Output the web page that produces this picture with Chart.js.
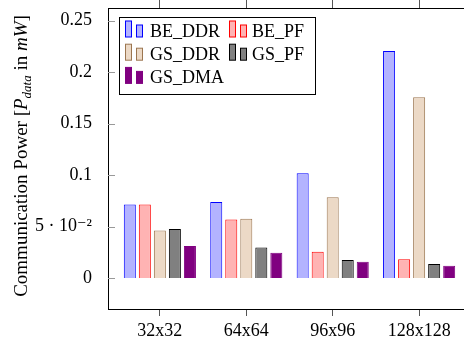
<!DOCTYPE html>
<html>
<head>
<meta charset="utf-8">
<script src="https://cdn.jsdelivr.net/npm/chart.js@4/dist/chart.umd.min.js"></script>
<style>
  html, body { margin: 0; padding: 0; background: #fff; overflow: hidden; }
  #wrap { width: 480px; height: 344px; }
</style>
</head>
<body>
<div id="wrap"><canvas id="myChart" width="480" height="344"></canvas></div>
<script>
const categories = ["32x32", "64x64", "96x96", "128x128"];
const beDdr = [0.0715, 0.0738, 0.1019, 0.2206];
const bePf = [0.0716, 0.0569, 0.0255, 0.0184];
const gsDdr = [0.0462, 0.0576, 0.0786, 0.1757];
const gsPf = [0.0478, 0.0297, 0.0175, 0.0136];
const gsDma = [0.0313, 0.0246, 0.0158, 0.0119];
const yTicks = [0, 0.05, 0.1, 0.15, 0.2, 0.25];

const serif = '"Liberation Serif", "DejaVu Serif", serif';

function points(values) {
  return values.map((v, i) => ({ x: i, y: v }));
}

function dataset(label, values, bg, border) {
  return {
    label: label,
    data: points(values),
    xAxisID: "x",
    backgroundColor: bg,
    borderColor: border,
    borderWidth: 1,
    barPercentage: 0.8,
    categoryPercentage: 0.869
  };
}

function tickLabel(v) {
  if (Math.abs(v - 0.05) < 1e-9) return "5 \u00b7 10\u207b\u00b2";
  return String(Math.round(v * 100) / 100);
}

// petits traits intérieurs de l'axe y, titre de l'axe y et légende
const decor = {
  id: "decor",
  afterDraw(chart) {
    const c = chart.ctx;
    const a = chart.chartArea;
    const ys = chart.scales.y;
    const l = Math.round(a.left);
    const r = Math.round(a.right);
    c.save();

    c.fillStyle = "#999";
    yTicks.forEach((v) => {
      const y = Math.round(ys.getPixelForValue(v));
      c.fillRect(l, y, 7, 1);
      c.fillRect(r - 7, y, 7, 1);
    });
    c.fillStyle = "#000";
    c.fillRect(r, Math.round(a.top), 1, Math.round(a.bottom - a.top));

    // titre axe y
    const parts = [
      { t: "Communication Power [", f: "19px " + serif, dy: 0 },
      { t: "P", f: "italic 19px " + serif, dy: 0 },
      { t: "data", f: "italic 13px " + serif, dy: 4 },
      { t: " in ", f: "19px " + serif, dy: 0 },
      { t: "mW", f: "italic 19px " + serif, dy: 0 },
      { t: "]", f: "19px " + serif, dy: 0 }
    ];
    let total = 0;
    parts.forEach((p) => { c.font = p.f; p.w = c.measureText(p.t).width; total += p.w; });
    c.translate(27, 156);
    c.rotate(-Math.PI / 2);
    c.fillStyle = "#000";
    c.textBaseline = "alphabetic";
    let px = -total / 2;
    parts.forEach((p) => { c.font = p.f; c.fillText(p.t, px, p.dy); px += p.w; });
    c.setTransform(1, 0, 0, 1, 0, 0);

    // légende
    c.fillStyle = "#fff";
    c.fillRect(119.5, 17.5, 196, 77);
    c.lineWidth = 1;
    c.strokeStyle = "#000";
    c.strokeRect(119.5, 17.5, 196, 77);
    c.font = "18px " + serif;
    c.textBaseline = "alphabetic";
    chart.data.datasets.forEach((ds, i) => {
      const col = i % 2;
      const row = Math.floor(i / 2);
      const base = 37 + row * 23.2;
      const ix = 125.5 + col * 104;
      c.fillStyle = ds.backgroundColor;
      c.strokeStyle = ds.borderColor;
      c.fillRect(ix, base - 16, 6, 16);
      c.strokeRect(ix, base - 16, 6, 16);
      c.fillRect(ix + 11, base - 12, 6, 12);
      c.strokeRect(ix + 11, base - 12, 6, 12);
      c.fillStyle = "#000";
      c.fillText(ds.label, 150 + col * 102, base);
    });
    c.restore();
  }
};

const ctx = document.getElementById("myChart");
const chart = new Chart(ctx, {
  type: "bar",
  data: {
    datasets: [
      dataset("BE_DDR", beDdr, "#b3b3ff", "#0000ff"),
      dataset("BE_PF", bePf, "#ffb3b3", "#ff0000"),
      dataset("GS_DDR", gsDdr, "#ecd9c6", "#9c7650"),
      dataset("GS_PF", gsPf, "#808080", "#000000"),
      dataset("GS_DMA", gsDma, "#800080", "#800080")
    ]
  },
  options: {
    responsive: false,
    animation: false,
    layout: { padding: { top: 0, right: 9, left: 0, bottom: 0 } },
    scales: {
      x: {
        type: "linear",
        position: "bottom",
        min: -0.6,
        max: 3.6,
        offset: false,
        grid: { display: true, drawOnChartArea: false, offset: false, tickLength: 7, tickColor: "#555", color: "#555" },
        border: { display: true, color: "#000", width: 1 },
        afterFit(scale) {
          scale.height = 35;
          scale.paddingLeft = 0;
          scale.paddingRight = 0;
        },
        afterBuildTicks(scale) { scale.ticks = categories.map((_, i) => ({ value: i })); },
        ticks: {
          autoSkip: false,
          maxRotation: 0,
          padding: 4,
          color: "#000",
          font: { family: serif, size: 18 },
          callback: (v) => categories[v]
        }
      },
      xTop: {
        type: "linear",
        position: "top",
        min: -0.6,
        max: 3.6,
        offset: false,
        grid: { display: true, drawOnChartArea: false, offset: false, tickLength: 8, tickColor: "#555", color: "#555" },
        border: { display: true, color: "#000", width: 1 },
        afterFit(scale) {
          scale.height = 8;
          scale.paddingLeft = 0;
          scale.paddingRight = 0;
        },
        afterBuildTicks(scale) { scale.ticks = categories.map((_, i) => ({ value: i })); },
        ticks: { display: false }
      },
      y: {
        min: -0.03,
        max: 0.2623,
        grid: { display: false },
        border: { display: true, color: "#000", width: 1 },
        afterFit(scale) {
          scale.width = 108;
          scale.paddingTop = 0;
          scale.paddingBottom = 0;
        },
        afterBuildTicks(scale) { scale.ticks = yTicks.map((v) => ({ value: v })); },
        ticks: {
          padding: 8,
          color: "#000",
          font: { family: serif, size: 18 },
          callback: (v) => tickLabel(v)
        }
      }
    },
    plugins: {
      legend: { display: false },
      tooltip: { enabled: false }
    }
  },
  plugins: [decor]
});
</script>
</body>
</html>
